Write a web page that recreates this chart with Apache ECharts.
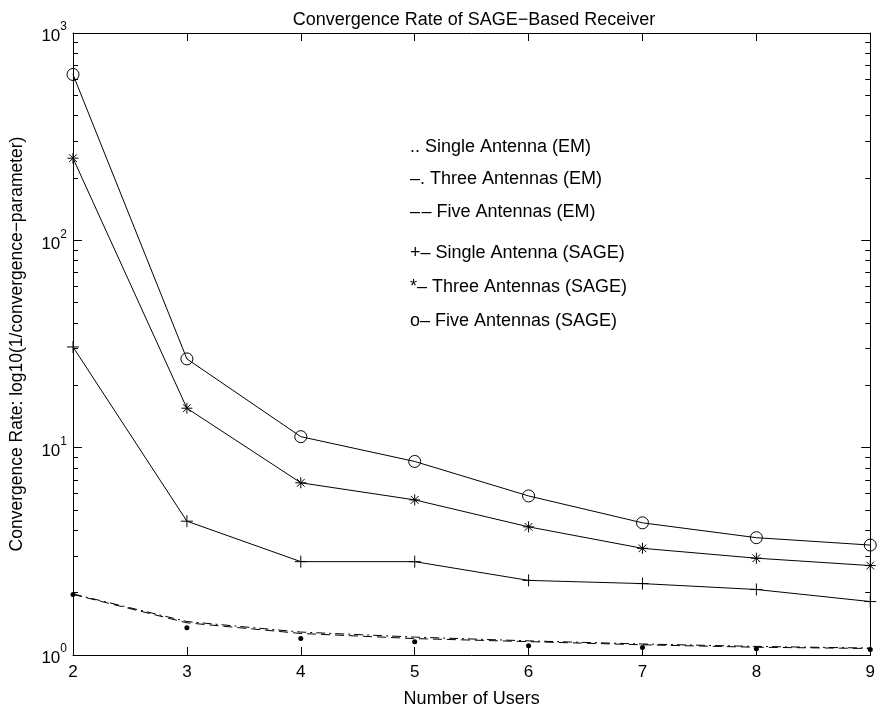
<!DOCTYPE html>
<html>
<head>
<meta charset="utf-8">
<script src="https://cdn.jsdelivr.net/npm/echarts@6/dist/echarts.min.js"></script>
<style>
html,body{margin:0;padding:0;background:#fff;}
#chart{width:878px;height:713px;}
</style>
</head>
<body>
<div id="chart"></div>
<script>
// ---- data ----
var users = [2, 3, 4, 5, 6, 7, 8, 9];
var singleEM   = [1.96, 1.353, 1.20, 1.157, 1.107, 1.087, 1.071, 1.064];
var threeEM    = [1.97, 1.45, 1.29, 1.22, 1.17, 1.13, 1.10, 1.08];
var fiveEM     = [1.96, 1.43, 1.27, 1.20, 1.16, 1.12, 1.09, 1.075];
var singleSAGE = [30.6, 4.42, 2.82, 2.82, 2.29, 2.21, 2.07, 1.81];
var threeSAGE  = [249, 15.5, 6.77, 5.60, 4.15, 3.27, 2.93, 2.70];
var fiveSAGE   = [631, 26.8, 11.3, 8.58, 5.85, 4.34, 3.68, 3.39];
var emNames   = ['.. Single Antenna (EM)', '\u2013. Three Antennas (EM)', '\u2013\u200A\u2013 Five Antennas (EM)'];
var sageNames = ['+\u2013 Single Antenna (SAGE)', '*\u2013 Three Antennas (SAGE)', 'o\u2013 Five Antennas (SAGE)'];
var xTicks = [2, 3, 4, 5, 6, 7, 8, 9];
var yMajorTicks = [1, 10, 100, 1000];
var yMinorTicks = [2, 3, 4, 5, 6, 7, 8, 9, 20, 30, 40, 50, 60, 70, 80, 90, 200, 300, 400, 500, 600, 700, 800, 900];
var titleText = 'Convergence Rate of SAGE\u2212Based Receiver';
var xName = 'Number of Users';
var yName = 'Convergence Rate: log10(1/convergence\u2212parameter)';

var FONT = "'Liberation Sans', Arial, Helvetica, sans-serif";

function pairs(vals) { return users.map(function (u, i) { return [u, vals[i]]; }); }

var plusPath = 'path://M0,-1L0,1M-1,0L1,0';
var starPath = 'path://M0,-1L0,1M-1,0L1,0M-0.7,-0.7L0.7,0.7M-0.7,0.7L0.7,-0.7';

function yAxisDef(pos, minor, showLabel, showLine) {
  return {
    type: 'log', logBase: 10, min: 1, max: 1000, position: pos,
    axisLine: { show: showLine, onZero: false, lineStyle: { color: '#000', width: 1 } },
    axisTick: minor
      ? { show: true, inside: true, length: 5, customValues: yMinorTicks, lineStyle: { color: '#000', width: 1 } }
      : { show: true, inside: true, length: 9, customValues: yMajorTicks, lineStyle: { color: '#000', width: 1 } },
    axisLabel: showLabel ? {
      show: true, margin: 6, customValues: yMajorTicks,
      formatter: function (v) { return '{b|10}{s|' + Math.round(Math.log10(v)) + '}'; },
      rich: {
        b: { fontSize: 17, fontFamily: FONT, color: '#000', lineHeight: 24, verticalAlign: 'bottom' },
        s: { fontSize: 12, fontFamily: FONT, color: '#000', lineHeight: 24, verticalAlign: 'top' }
      }
    } : { show: false },
    splitLine: { show: false },
    minorTick: { show: false }
  };
}

var yAxes = [
  yAxisDef('left', false, true, true),
  yAxisDef('left', true, false, false),
  yAxisDef('right', false, false, true),
  yAxisDef('right', true, false, false)
];
yAxes[0].name = yName;
yAxes[0].nameLocation = 'middle';
yAxes[0].nameGap = 47;
yAxes[0].nameTextStyle = { fontSize: 17.5, fontFamily: FONT, color: '#000' };

var chart = echarts.init(document.getElementById('chart'), null, { renderer: 'canvas' });
chart.setOption({
  backgroundColor: '#fff',
  animation: false,
  title: {
    text: titleText, left: 469, textAlign: 'center', top: 6,
    textStyle: { fontSize: 18, fontWeight: 'normal', fontFamily: FONT, color: '#000' }
  },
  grid: { left: 65, right: 5, top: 33, bottom: 48, containLabel: false },
  xAxis: [
    {
      type: 'value', min: 2, max: 9, interval: 1, position: 'bottom',
      name: xName, nameLocation: 'middle', nameGap: 35,
      nameTextStyle: { fontSize: 18, fontFamily: FONT, color: '#000' },
      axisLine: { show: true, onZero: false, lineStyle: { color: '#000', width: 1 } },
      axisTick: { show: true, inside: true, length: 8, lineStyle: { color: '#000', width: 1 } },
      axisLabel: { show: true, margin: 9, fontSize: 17, fontFamily: FONT, color: '#000', customValues: xTicks },
      splitLine: { show: false }
    },
    {
      type: 'value', min: 2, max: 9, interval: 1, position: 'top',
      axisLine: { show: true, onZero: false, lineStyle: { color: '#000', width: 1 } },
      axisTick: { show: true, inside: true, length: 8, lineStyle: { color: '#000', width: 1 } },
      axisLabel: { show: false },
      splitLine: { show: false }
    }
  ],
  yAxis: yAxes,
  legend: [
    {
      data: emNames, orient: 'vertical', left: 405, top: 137, icon: 'none', padding: 0,
      itemWidth: 0, itemHeight: 14, itemGap: 12.4, selectedMode: false,
      textStyle: { fontSize: 18, fontFamily: FONT, color: '#000', lineHeight: 20 }
    },
    {
      data: sageNames, orient: 'vertical', left: 405, top: 243, icon: 'none', padding: 0,
      itemWidth: 0, itemHeight: 14, itemGap: 14, selectedMode: false,
      textStyle: { fontSize: 18, fontFamily: FONT, color: '#000', lineHeight: 20 }
    }
  ],
  series: [
    {
      name: emNames[0], type: 'line', data: pairs(singleEM),
      symbol: 'circle', symbolSize: 5, showSymbol: true,
      itemStyle: { color: '#000' },
      lineStyle: { width: 0, opacity: 0 }
    },
    {
      name: emNames[1], type: 'line', data: pairs(threeEM), showSymbol: false, symbol: 'none',
      itemStyle: { color: '#000' },
      lineStyle: { color: '#000', width: 1, type: [9, 4, 2, 4] }
    },
    {
      name: emNames[2], type: 'line', data: pairs(fiveEM), showSymbol: false, symbol: 'none',
      itemStyle: { color: '#000' },
      lineStyle: { color: '#000', width: 1, type: [9, 5] }
    },
    {
      name: sageNames[0], type: 'line', data: pairs(singleSAGE),
      symbol: plusPath, symbolSize: 12, symbolKeepAspect: true,
      itemStyle: { color: 'transparent', borderColor: '#000', borderWidth: 1 },
      lineStyle: { color: '#000', width: 1 }
    },
    {
      name: sageNames[1], type: 'line', data: pairs(threeSAGE),
      symbol: starPath, symbolSize: 11, symbolKeepAspect: true,
      itemStyle: { color: 'transparent', borderColor: '#000', borderWidth: 1 },
      lineStyle: { color: '#000', width: 1 }
    },
    {
      name: sageNames[2], type: 'line', data: pairs(fiveSAGE),
      symbol: 'circle', symbolSize: 12,
      itemStyle: { color: 'transparent', borderColor: '#000', borderWidth: 1 },
      lineStyle: { color: '#000', width: 1 }
    }
  ]
});
</script>
</body>
</html>
